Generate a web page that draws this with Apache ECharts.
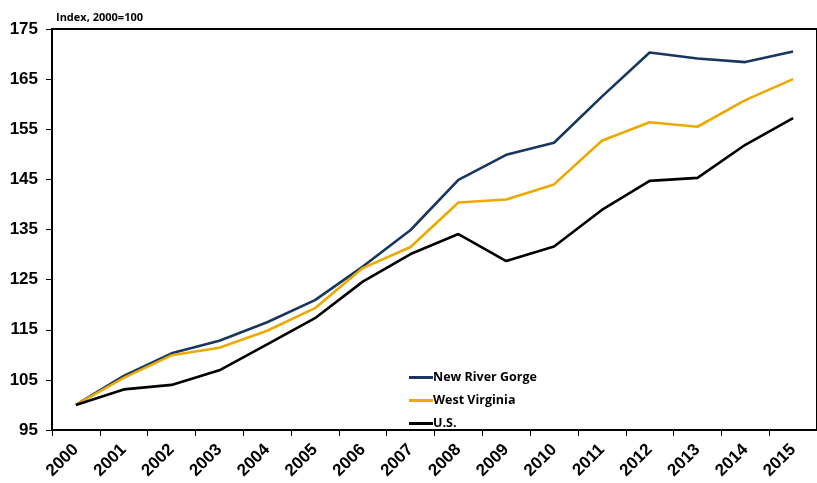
<!DOCTYPE html>
<html>
<head>
<meta charset="utf-8">
<script src="https://cdn.jsdelivr.net/npm/echarts@6/dist/echarts.min.js"></script>
<style>
  html, body { margin: 0; padding: 0; background: #fff; }
  #chart { width: 817px; height: 483px; }
</style>
</head>
<body>
<div id="chart"></div>
<script>
// Employment index by year (2000 = 100)
const years = ['2000','2001','2002','2003','2004','2005','2006','2007','2008','2009','2010','2011','2012','2013','2014','2015'];
const newRiverGorge = [100, 105.8, 110.3, 112.8, 116.5, 120.9, 127.6, 134.9, 144.9, 149.9, 152.3, 161.5, 170.3, 169.1, 168.4, 170.5];
const westVirginia  = [100, 105.4, 109.9, 111.4, 114.8, 119.3, 127.3, 131.5, 140.4, 141.0, 144.0, 152.7, 156.4, 155.5, 160.8, 165.0];
const unitedStates  = [100, 103.1, 104.0, 106.9, 112.1, 117.3, 124.6, 130.1, 134.1, 128.7, 131.6, 138.9, 144.7, 145.3, 151.9, 157.2];
const seriesNames = ['New River Gorge', 'West Virginia', 'U.S.'];
const yTicks = { min: 95, max: 175, step: 10 };

const colors = ['#17375E', '#EDA900', '#000000'];
const chart = echarts.init(document.getElementById('chart'));

const makeLine = (name, data, color) => ({
  name, type: 'line', data,
  symbol: 'none',
  lineStyle: { color, width: 2.6 },
  itemStyle: { color }
});

chart.setOption({
  animation: false,
  title: {
    text: 'Index, 2000=100',
    left: 51, top: 7,
    textStyle: { fontFamily: 'Open Sans', fontWeight: 'bold', fontSize: 11, color: '#000' }
  },
  legend: {
    orient: 'vertical',
    left: 404, top: 366,
    itemWidth: 24, itemHeight: 3, itemGap: 10,
    icon: 'rect',
    data: seriesNames,
    textStyle: { fontFamily: 'Open Sans', fontWeight: 'bold', fontSize: 12.5, color: '#000', padding: [0, 0, 0, -5] }
  },
  grid: {
    left: 52, top: 29, width: 773, height: 401,
    show: true, borderColor: '#000', borderWidth: 2, backgroundColor: 'transparent'
  },
  xAxis: {
    type: 'category',
    data: years,
    boundaryGap: true,
    axisLine: { lineStyle: { color: '#000', width: 2 } },
    axisTick: { show: true, length: 6, lineStyle: { color: '#000', width: 1 } },
    axisLabel: {
      rotate: 45, interval: 0, margin: 17,
      fontFamily: 'Liberation Sans', fontWeight: 'bold', fontSize: 17, color: '#000'
    },
    splitLine: { show: false }
  },
  yAxis: {
    type: 'value',
    min: yTicks.min, max: yTicks.max, interval: yTicks.step,
    axisLine: { show: true, lineStyle: { color: '#000', width: 2 } },
    axisTick: { show: true, length: 6, lineStyle: { color: '#000', width: 1 } },
    axisLabel: {
      margin: 14,
      fontFamily: 'Liberation Sans', fontWeight: 'bold', fontSize: 17, color: '#000'
    },
    splitLine: { show: false }
  },
  series: [
    makeLine(seriesNames[0], newRiverGorge, colors[0]),
    makeLine(seriesNames[1], westVirginia, colors[1]),
    makeLine(seriesNames[2], unitedStates, colors[2])
  ]
});
</script>
</body>
</html>
